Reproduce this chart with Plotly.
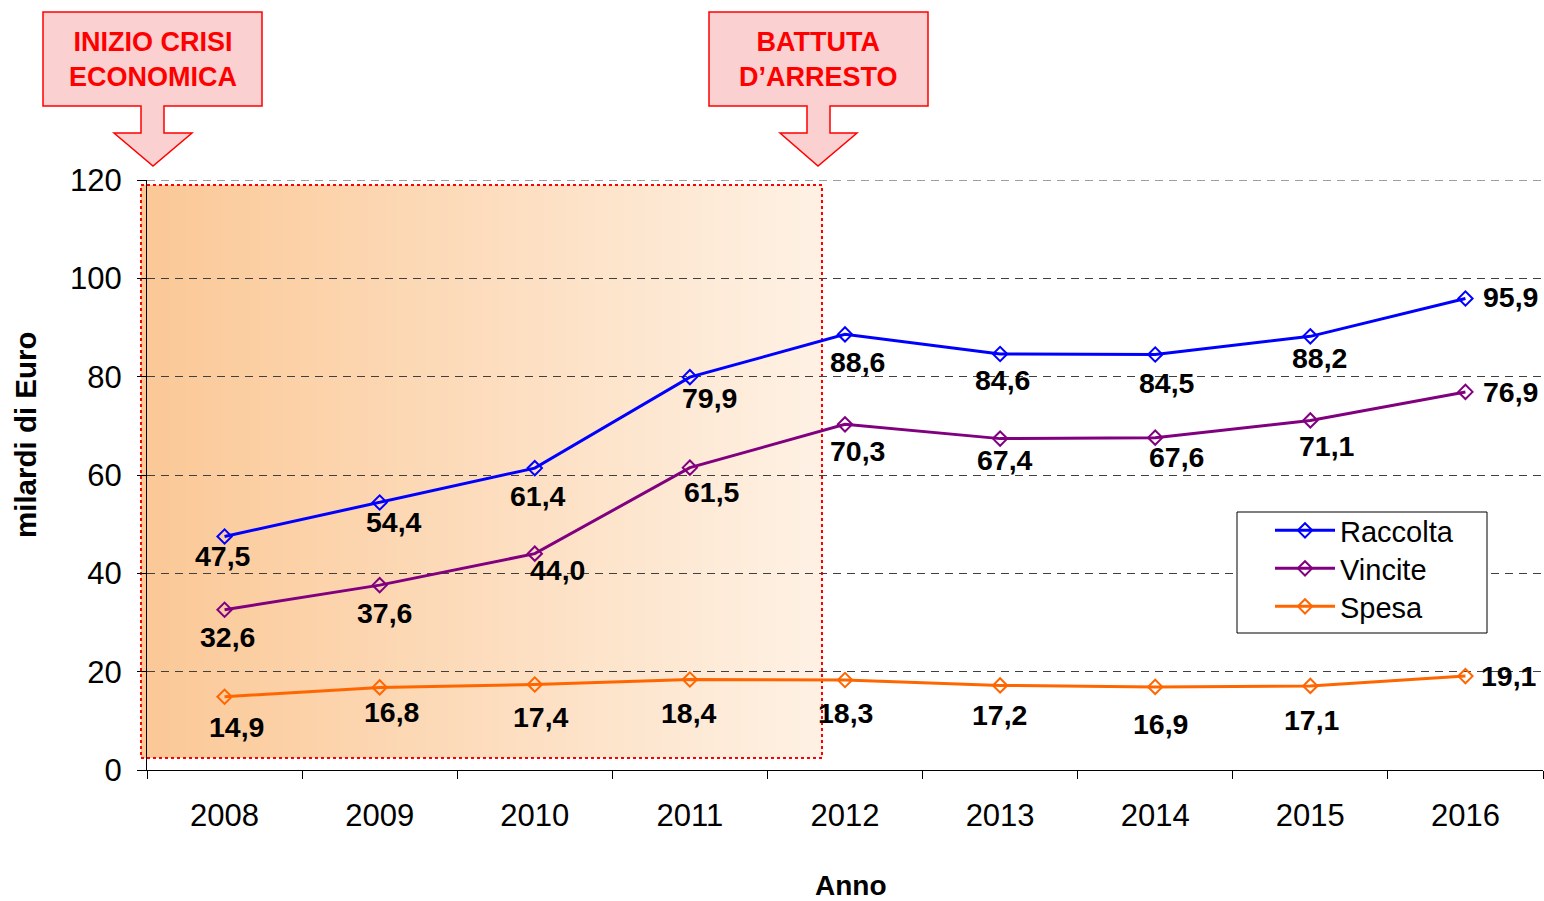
import plotly.graph_objects as go

# Gioco in Italia: raccolta, vincite e spesa (miliardi di euro)
anni = ["2008", "2009", "2010", "2011", "2012", "2013", "2014", "2015", "2016"]
raccolta = [47.5, 54.4, 61.4, 79.9, 88.6, 84.6, 84.5, 88.2, 95.9]
vincite = [32.6, 37.6, 44.0, 61.5, 70.3, 67.4, 67.6, 71.1, 76.9]
spesa = [14.9, 16.8, 17.4, 18.4, 18.3, 17.2, 16.9, 17.1, 19.1]

W, H = 1544, 901
ML, MR, MT, MB = 147, 1, 180, 131
PW, PH = W - ML - MR, H - MT - MB
FONT = "Arial, Liberation Sans, sans-serif"


def px(x):
    return (x - ML) / PW


def py(y):
    return (H - MB - y) / PH


def fmt(v):
    return f"{v:.1f}".replace(".", ",")


xs = list(range(len(anni)))
fig = go.Figure()

series = [
    ("Raccolta", raccolta, "#0000FF", "legend", 531,
     [(-2, 20), (14, 19), (3, 28), (20, 21), (12, 28), (2, 26), (12, 28), (9, 22), (45, -1)]),
    ("Vincite", vincite, "#800080", "legend2", 569,
     [(3, 27), (5, 28), (23, 16), (22, 24), (12, 27), (5, 21), (21, 19), (17, 26), (45, 0)]),
    ("Spesa", spesa, "#FF6600", "legend3", 607,
     [(12, 30), (12, 25), (6, 33), (-1, 33), (0, 33), (-1, 30), (5, 37), (2, 34), (44, 0)]),
]

annotations = []
legends = {}
for name, vals, color, leg, leg_y, offs in series:
    fig.add_trace(go.Scatter(
        x=xs, y=vals, name=name, mode="lines+markers", legend=leg,
        line=dict(color=color, width=3),
        marker=dict(symbol="diamond-open", size=11, color=color,
                    line=dict(width=2, color=color)),
        cliponaxis=False,
    ))
    legends[leg] = dict(
        x=px(1270), y=py(leg_y - 26), xanchor="left", yanchor="top",
        bgcolor="rgba(0,0,0,0)", borderwidth=0,
        font=dict(family=FONT, size=29, color="black"),
        itemwidth=60,
    )
    for x, v, (dx, dy) in zip(xs, vals, offs):
        annotations.append(dict(
            x=x, y=v, xref="x", yref="y", text=f"<b>{fmt(v)}</b>",
            showarrow=False, xshift=dx, yshift=-dy,
            font=dict(family=FONT, size=28.5, color="black"),
        ))

# Shaded crisis period with horizontal gradient
shapes = []
x_left, x_right, y_top, y_bot = 141, 822, 185, 758
c0, c1 = (251, 200, 150), (254, 241, 228)
n = 120
step = (x_right - x_left) / n
for i in range(n):
    t = i / (n - 1)
    col = tuple(round(a + (b - a) * t) for a, b in zip(c0, c1))
    shapes.append(dict(
        type="rect", xref="paper", yref="paper", layer="below",
        x0=px(x_left + i * step), x1=px(x_left + (i + 1) * step + 0.8),
        y0=py(y_bot), y1=py(y_top),
        fillcolor=f"rgb{col}", line=dict(width=0),
    ))
shapes.append(dict(
    type="rect", xref="paper", yref="paper", layer="below",
    x0=px(x_left), x1=px(x_right), y0=py(y_bot), y1=py(y_top),
    fillcolor="rgba(0,0,0,0)", line=dict(color="#FF0000", width=2, dash="dot"),
))

# Top gridline at the axis maximum
shapes.append(dict(
    type="line", xref="paper", yref="y", x0=0, x1=1, y0=120, y1=120,
    line=dict(color="#404040", width=1, dash="8px,6px"),
))

# Legend frame
shapes.append(dict(
    type="rect", xref="paper", yref="paper",
    x0=px(1237), x1=px(1487), y0=py(633), y1=py(512),
    fillcolor="white", line=dict(color="black", width=1), layer="above",
))


# Callout arrows
def callout(bx0, bx1, sx0, sx1, hx0, hx1, tip):
    pts = [(bx0, 12), (bx1, 12), (bx1, 106), (sx1, 106), (sx1, 133), (hx1, 133),
           (tip, 166), (hx0, 133), (sx0, 133), (sx0, 106), (bx0, 106)]
    path = "M " + " L ".join(f"{px(a):.5f},{py(b):.5f}" for a, b in pts) + " Z"
    return dict(type="path", xref="paper", yref="paper", path=path,
                fillcolor="#FAD0D0", line=dict(color="#FF0000", width=1.5))


shapes.append(callout(43, 262, 141, 164, 114, 192, 153))
shapes.append(callout(709, 928, 807, 830, 780, 857, 818))

for cx, txt in [(152.5, "INIZIO CRISI<br>ECONOMICA"), (818.5, "BATTUTA<br>D’ARRESTO")]:
    annotations.append(dict(
        x=px(cx), y=py(59), xref="paper", yref="paper", text=f"<b>{txt}</b>",
        showarrow=False, xanchor="center", yanchor="middle",
        font=dict(family=FONT, size=27, color="#FF0000"),
    ))

# Axis titles
annotations.append(dict(
    x=px(851), y=py(885), xref="paper", yref="paper", text="<b>Anno</b>",
    showarrow=False, xanchor="center", yanchor="middle",
    font=dict(family=FONT, size=28, color="black"),
))
annotations.append(dict(
    x=px(25), y=py(434), xref="paper", yref="paper", text="<b>milardi di Euro</b>",
    showarrow=False, xanchor="center", yanchor="middle", textangle=-90,
    font=dict(family=FONT, size=29.5, color="black"),
))

fig.update_layout(
    width=W, height=H,
    margin=dict(l=ML, r=MR, t=MT, b=MB),
    paper_bgcolor="white", plot_bgcolor="rgba(0,0,0,0)",
    font=dict(family=FONT, color="black"),
    shapes=shapes, annotations=annotations,
    showlegend=True,
    xaxis=dict(
        range=[-0.5, len(anni) - 0.5],
        tickmode="array", tickvals=xs, ticktext=anni, ticks="",
        tickfont=dict(family=FONT, size=31, color="black"),
        ticklabelstandoff=18,
        showgrid=False, zeroline=False,
        showline=True, linecolor="black", linewidth=1,
        minor=dict(tickmode="array", tickvals=[i - 0.5 for i in range(len(anni) + 1)],
                   ticks="outside", ticklen=8, tickcolor="black", showgrid=False),
    ),
    yaxis=dict(
        range=[0, 120], tick0=0, dtick=20,
        ticks="outside", ticklen=9, tickcolor="black",
        tickfont=dict(family=FONT, size=31, color="black"),
        ticklabelstandoff=9,
        showgrid=True, gridcolor="#404040", gridwidth=1, griddash="8px,6px",
        zeroline=False,
        showline=True, linecolor="black", linewidth=1,
    ),
)
fig.update_layout(**legends)

fig.write_html("out.html")
